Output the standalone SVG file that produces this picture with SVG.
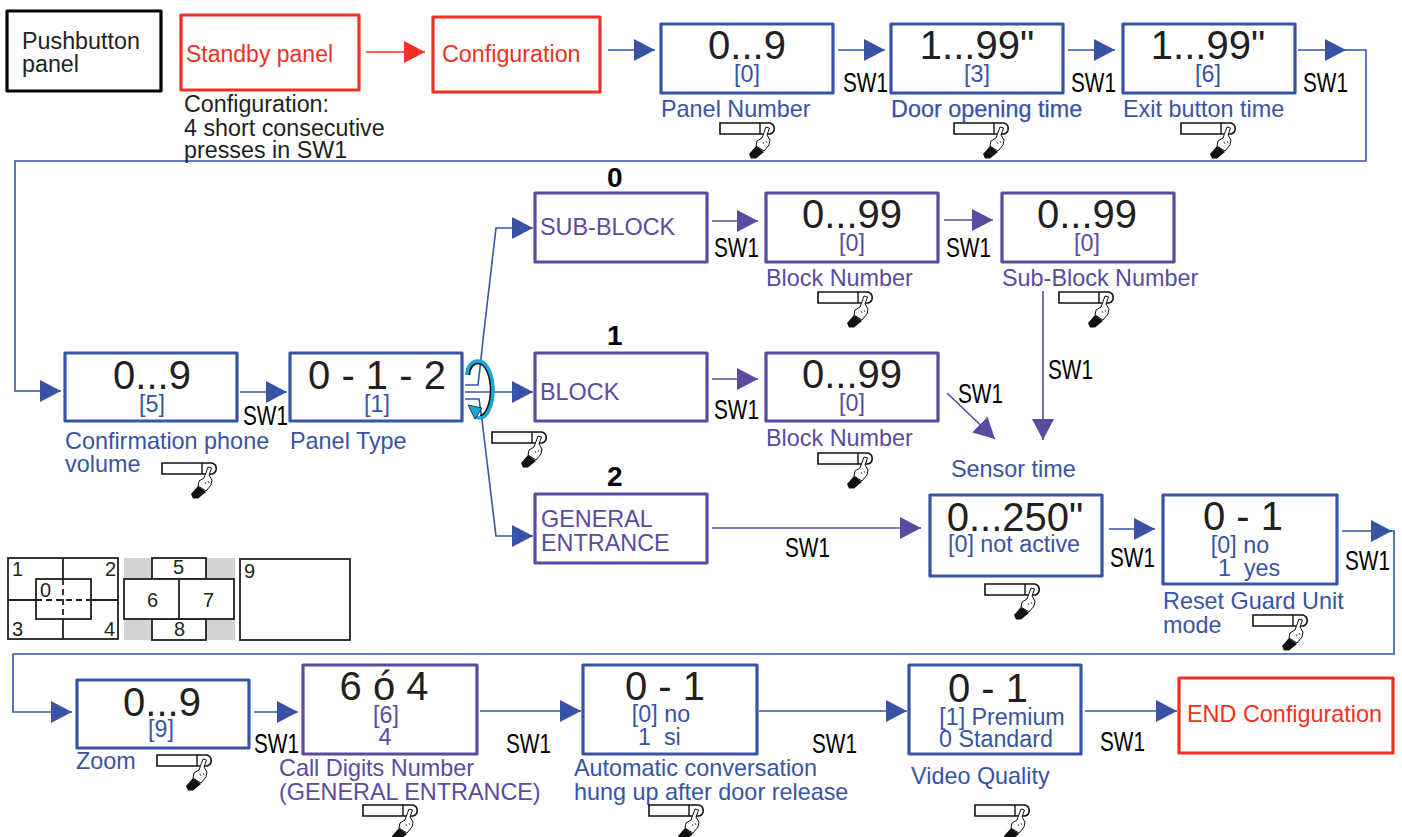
<svg xmlns="http://www.w3.org/2000/svg" xmlns:xlink="http://www.w3.org/1999/xlink" width="1402" height="837" viewBox="0 0 1402 837">
<style>
text{font-family:"Liberation Sans",Arial,sans-serif;fill:#231f20;white-space:pre}
.b{fill:#fff;stroke-width:3.2;stroke-linejoin:round}
.blue{stroke:#3953a4}.purple{stroke:#5b4a9f}.red{stroke:#ee3124}.black{stroke:#000}
.tb{fill:#3953a4}.tp{fill:#5b4a9f}.tr{fill:#ee3124}
.big{font-size:40px;text-anchor:middle}
.mid{font-size:23.3px;text-anchor:middle}
.lab{font-size:23.4px}
.sw{font-size:28px;fill:#000}
.c{fill:none;stroke-width:1.6}
.n{font-size:20px}
.num{font-size:28px;font-weight:bold;fill:#000}
</style>
<defs>
<marker id="ab" markerUnits="userSpaceOnUse" markerWidth="22" markerHeight="24" refX="21" refY="11" orient="auto"><path d="M0,0L21,11L0,22Z" fill="#3953a4"/></marker>
<marker id="ap" markerUnits="userSpaceOnUse" markerWidth="22" markerHeight="24" refX="21" refY="11" orient="auto"><path d="M0,0L21,11L0,22Z" fill="#5b4a9f"/></marker>
<marker id="ar" markerUnits="userSpaceOnUse" markerWidth="22" markerHeight="24" refX="21" refY="11" orient="auto"><path d="M0,0L21,11L0,22Z" fill="#ee3124"/></marker>
<g id="hand">
<path d="M0,0H50A5.7,5.7 0 0 1 50,11H0Z" fill="#fff" stroke="#111" stroke-width="1.6"/>
<path d="M40,0V11" stroke="#111" stroke-width="1.4"/>
<path d="M46,4L49.5,5L47,12L50,17L49,22L44,28L36,23L37,18L42,15Z" fill="#fff" stroke="#111" stroke-width="1" stroke-linejoin="round"/>
<path d="M43,19L44,21M46,18L47,20" stroke="#111" stroke-width="0.7"/>
<path d="M36,23L44,29L36,35.5L31,35.5L29,31Z" fill="#111"/>
</g>
</defs>

<g id="connectors">
<path class="c red" d="M366,52H425" marker-end="url(#ar)"/>
<path class="c blue" d="M608,50H655" marker-end="url(#ab)"/>
<path class="c blue" d="M838,50H885" marker-end="url(#ab)"/>
<path class="c blue" d="M1068,50H1115" marker-end="url(#ab)"/>
<path class="c blue" d="M1298,50H1346" marker-end="url(#ab)"/>
<path class="c blue" d="M1340,50H1366V161H15V391H61" marker-end="url(#ab)"/>
<path class="c blue" d="M240,392H287" marker-end="url(#ab)"/>
<path class="c blue" d="M465,385H478L480,368L483,340L496,228H533" marker-end="url(#ab)"/>
<path class="c blue" d="M465,392H533" marker-end="url(#ab)"/>
<path class="c blue" d="M465,399H479L482,420L496,536H533" marker-end="url(#ab)"/>
<path class="c purple" d="M712,221H758" marker-end="url(#ap)"/>
<path class="c purple" d="M944,220H993" marker-end="url(#ap)"/>
<path class="c purple" d="M712,379H758" marker-end="url(#ap)"/>
<path class="c purple" d="M947,393L995,439" marker-end="url(#ap)"/>
<path class="c purple" d="M1043,291V440" marker-end="url(#ap)"/>
<path class="c purple" d="M712,528H921" marker-end="url(#ap)"/>
<path class="c blue" d="M1109,529H1155" marker-end="url(#ab)"/>
<path class="c blue" d="M1342,531H1392" marker-end="url(#ab)"/>
<path class="c blue" d="M1385,531H1394V654H13V712H72" marker-end="url(#ab)"/>
<path class="c blue" d="M254,712H298" marker-end="url(#ab)"/>
<path class="c blue" d="M480,711H581" marker-end="url(#ab)"/>
<path class="c blue" d="M759,711H907" marker-end="url(#ab)"/>
<path class="c blue" d="M1085,711H1177" marker-end="url(#ab)"/>
</g>

<g id="rotate-icon" fill="none">
<path d="M468,375C468,367 473,362 478,362C487,362 492,376 492,390C492,404 487,417 480,417" stroke="#111" stroke-width="4.6"/>
<path d="M467,375C467,366 472,361 478,361C487,361 493,375 493,390C493,405 487,418 480,418L475,417" stroke="#1ba6dd" stroke-width="3.4"/>
<path d="M468,405L482,408L475,419Z" fill="#1ba6dd" stroke="#111" stroke-width="0.8"/>
</g>

<g id="pushbutton"><rect class="b black" x="7" y="11" width="154" height="80"/>
<text x="22" y="49" font-size="23.3">Pushbutton</text><text x="22" y="72" font-size="23.3">panel</text></g>
<g id="standby"><rect class="b red" x="181" y="15" width="178" height="75"/>
<text class="tr" x="186" y="62" font-size="23">Standby panel</text></g>
<g id="config-note">
<text x="184" y="112" font-size="23.3">Configuration:</text>
<text x="184" y="136" font-size="23.3">4 short consecutive</text>
<text x="184" y="158" font-size="23.3">presses in SW1</text></g>
<g id="configuration"><rect class="b red" x="433" y="17" width="167" height="75"/>
<text class="tr" x="442" y="62" font-size="23.3">Configuration</text></g>

<g id="panel-number"><rect class="b blue" x="661" y="24" width="172" height="69"/>
<text class="big" x="747" y="59">0...9</text><text class="mid tb" x="747" y="82">[0]</text>
<text class="lab tb" x="661" y="117">Panel Number</text><use xlink:href="#hand" x="720" y="123"/></g>
<g id="door-time"><rect class="b blue" x="891" y="24" width="172" height="69"/>
<text class="big" x="977" y="59">1...99"</text><text class="mid tb" x="977" y="82">[3]</text>
<text class="lab tb" x="891" y="117" stroke="#3953a4" stroke-width="0.25">Door opening time</text><use xlink:href="#hand" x="954" y="123"/></g>
<g id="exit-time"><rect class="b blue" x="1123" y="24" width="172" height="69"/>
<text class="big" x="1208" y="59">1...99"</text><text class="mid tb" x="1208" y="82">[6]</text>
<text class="lab tb" x="1123" y="117">Exit button time</text><use xlink:href="#hand" x="1181" y="123"/></g>

<g id="phone-volume"><rect class="b blue" x="65" y="353" width="172" height="68"/>
<text class="big" x="152" y="389">0...9</text><text class="mid tb" x="152" y="412">[5]</text>
<text class="lab tb" x="65" y="449">Confirmation phone</text><text class="lab tb" x="65" y="472">volume</text><use xlink:href="#hand" x="162" y="463"/></g>
<g id="panel-type"><rect class="b blue" x="290" y="353" width="172" height="68"/>
<text class="big" x="377" y="389">0 - 1 - 2</text><text class="mid tb" x="377" y="412">[1]</text>
<text class="lab tb" x="290" y="449">Panel Type</text><use xlink:href="#hand" x="492" y="432"/></g>

<text class="num" x="607" y="187">0</text>
<text class="num" x="607" y="345">1</text>
<text class="num" x="607" y="486">2</text>

<g id="sub-block"><rect class="b purple" x="535" y="193" width="172" height="69"/>
<text class="tp" x="540" y="235" font-size="23.4">SUB-BLOCK</text></g>
<g id="block-number-a"><rect class="b purple" x="766" y="193" width="172" height="69"/>
<text class="big" x="852" y="228">0...99</text><text class="mid tp" x="852" y="251">[0]</text>
<text class="lab tp" x="766" y="286">Block Number</text><use xlink:href="#hand" x="818" y="292"/></g>
<g id="sub-block-number"><rect class="b purple" x="1002" y="193" width="172" height="69"/>
<text class="big" x="1087" y="228">0...99</text><text class="mid tp" x="1087" y="251">[0]</text>
<text class="lab tp" x="1002" y="286">Sub-Block Number</text><use xlink:href="#hand" x="1059" y="292"/></g>

<g id="block"><rect class="b purple" x="535" y="353" width="172" height="68"/>
<text class="tp" x="540" y="400" font-size="23.4">BLOCK</text></g>
<g id="block-number-b"><rect class="b purple" x="766" y="353" width="172" height="68"/>
<text class="big" x="852" y="388">0...99</text><text class="mid tp" x="852" y="411">[0]</text>
<text class="lab tp" x="766" y="446">Block Number</text><use xlink:href="#hand" x="818" y="453"/></g>

<g id="general-entrance"><rect class="b purple" x="535" y="494" width="172" height="69"/>
<text class="tp" x="541" y="527" font-size="23.4">GENERAL</text><text class="tp" x="541" y="551" font-size="23.4">ENTRANCE</text></g>

<g id="sensor-time"><text class="lab tb" x="951" y="477">Sensor time</text><rect class="b blue" x="930" y="495" width="172" height="81"/>
<text class="big" x="1015" y="531">0...250"</text><text class="mid tb" x="1014" y="552">[0] not active</text><use xlink:href="#hand" x="985" y="584"/></g>
<g id="reset-guard"><rect class="b blue" x="1163" y="495" width="174" height="89"/>
<text class="big" x="1243" y="530">0 - 1</text><text class="mid tb" x="1240" y="553">[0] no</text><text class="mid tb" x="1218" y="576" style="text-anchor:start">1  yes</text>
<text class="lab tb" x="1163" y="609">Reset Guard Unit</text><text class="lab tb" x="1163" y="633">mode</text><use xlink:href="#hand" x="1253" y="615"/></g>

<g id="layouts">
<g id="layout-a" fill="none" stroke="#231f20" stroke-width="1.8">
<rect x="8" y="558" width="110" height="81" fill="#fff"/><rect x="36" y="579" width="55" height="40"/>
<path d="M63,558V579M63,619V639M8,600H36M91,600H118"/><path d="M36,600H91M63,579V619" stroke-dasharray="6 4"/></g>
<text class="n" x="12" y="576">1</text><text class="n" x="105" y="576">2</text><text class="n" x="40" y="597">0</text><text class="n" x="12" y="636">3</text><text class="n" x="104" y="636">4</text>
<g id="layout-b" stroke="#231f20" stroke-width="1.8" fill="#fff">
<rect x="124" y="558" width="111" height="82" fill="#d1d3d4" stroke="none"/>
<rect x="152" y="558" width="54" height="21"/><rect x="152" y="619" width="54" height="21"/><rect x="124" y="579" width="110" height="40"/><path d="M179,579V619"/></g>
<text class="n" x="173" y="574">5</text><text class="n" x="147" y="607">6</text><text class="n" x="203" y="607">7</text><text class="n" x="174" y="636">8</text>
<rect x="240" y="559" width="110" height="81" fill="#fff" stroke="#231f20" stroke-width="1.8"/><text class="n" x="244" y="578">9</text>
</g>

<g id="zoom"><rect class="b blue" x="77" y="680" width="172" height="68"/>
<text class="big" x="162" y="716">0...9</text><text class="mid tb" x="161" y="737">[9]</text>
<text class="lab tb" x="76" y="769">Zoom</text><use xlink:href="#hand" x="157" y="755"/></g>
<g id="call-digits"><rect class="b purple" x="303" y="665" width="174" height="89"/>
<text class="big" x="384" y="700">6 ó 4</text><text class="mid tp" x="386" y="723">[6]</text><text class="mid tp" x="385" y="745">4</text>
<text class="lab tp" x="279" y="776">Call Digits Number</text><text class="lab tp" x="279" y="800">(GENERAL ENTRANCE)</text><use xlink:href="#hand" x="363" y="805"/></g>
<g id="auto-hangup"><rect class="b blue" x="583" y="665" width="174" height="89"/>
<text class="big" x="665" y="700">0 - 1</text><text class="mid tb" x="661" y="722">[0] no</text><text class="mid tb" x="638" y="745" style="text-anchor:start">1  si</text>
<text class="lab tb" x="574" y="776">Automatic conversation</text><text class="lab tb" x="574" y="800">hung up after door release</text><use xlink:href="#hand" x="649" y="805"/></g>
<g id="video-quality"><rect class="b blue" x="909" y="665" width="172" height="89"/>
<text class="big" x="988" y="702">0 - 1</text><text class="mid tb" x="1002" y="725">[1] Premium</text><text class="mid tb" x="939" y="747" style="text-anchor:start">0 Standard</text>
<text class="lab tb" x="911" y="784">Video Quality</text><use xlink:href="#hand" x="975" y="805"/></g>
<g id="end-config"><rect class="b red" x="1179" y="678" width="214" height="75"/>
<text class="tr" x="1187" y="722" font-size="23.4">END Configuration</text></g>

<g id="sw-labels">
<text class="sw" x="843" y="92" textLength="45" lengthAdjust="spacingAndGlyphs">SW1</text>
<text class="sw" x="1071" y="92" textLength="45" lengthAdjust="spacingAndGlyphs">SW1</text>
<text class="sw" x="1303" y="92" textLength="45" lengthAdjust="spacingAndGlyphs">SW1</text>
<text class="sw" x="714" y="257" textLength="45" lengthAdjust="spacingAndGlyphs">SW1</text>
<text class="sw" x="946" y="257" textLength="45" lengthAdjust="spacingAndGlyphs">SW1</text>
<text class="sw" x="1048" y="379" textLength="45" lengthAdjust="spacingAndGlyphs">SW1</text>
<text class="sw" x="958" y="403" textLength="45" lengthAdjust="spacingAndGlyphs">SW1</text>
<text class="sw" x="243" y="425" textLength="45" lengthAdjust="spacingAndGlyphs">SW1</text>
<text class="sw" x="714" y="419" textLength="45" lengthAdjust="spacingAndGlyphs">SW1</text>
<text class="sw" x="785" y="557" textLength="45" lengthAdjust="spacingAndGlyphs">SW1</text>
<text class="sw" x="1110" y="567" textLength="45" lengthAdjust="spacingAndGlyphs">SW1</text>
<text class="sw" x="1345" y="570" textLength="45" lengthAdjust="spacingAndGlyphs">SW1</text>
<text class="sw" x="254" y="753" textLength="45" lengthAdjust="spacingAndGlyphs">SW1</text>
<text class="sw" x="506" y="753" textLength="45" lengthAdjust="spacingAndGlyphs">SW1</text>
<text class="sw" x="812" y="753" textLength="45" lengthAdjust="spacingAndGlyphs">SW1</text>
<text class="sw" x="1100" y="751" textLength="45" lengthAdjust="spacingAndGlyphs">SW1</text>
</g>
</svg>
